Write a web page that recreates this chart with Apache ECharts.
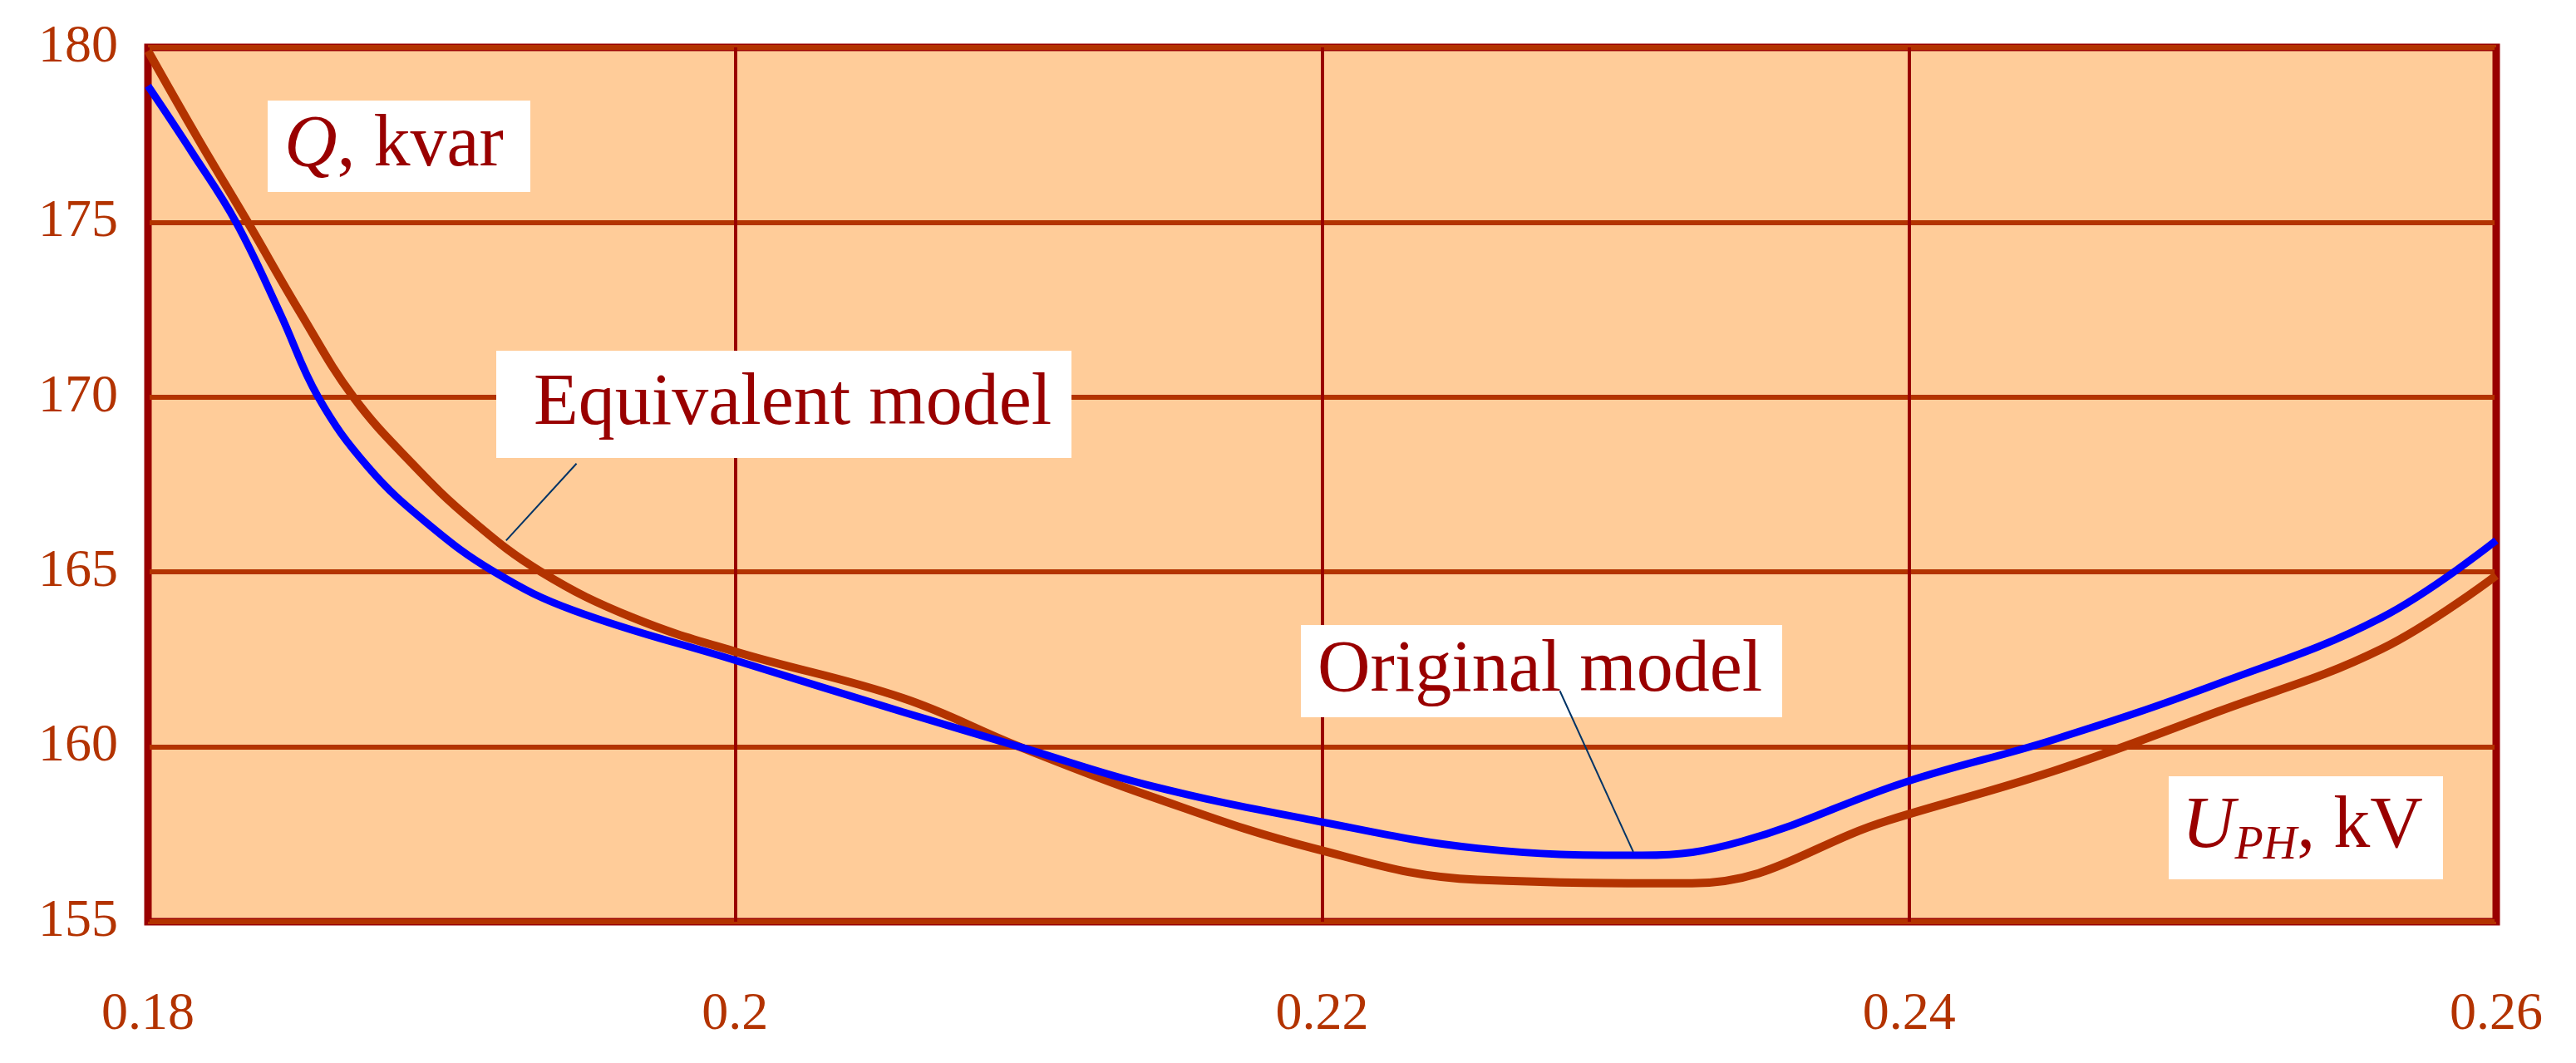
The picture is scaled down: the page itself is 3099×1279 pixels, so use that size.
<!DOCTYPE html>
<html>
<head>
<meta charset="utf-8">
<script src="https://cdn.jsdelivr.net/npm/echarts@6/dist/echarts.min.js"></script>
<style>html,body{margin:0;padding:0;background:#fff}#chart{width:3099px;height:1279px}</style>
</head>
<body>
<div id="chart"></div>
<script>
// curve readings (U_PH in kV, Q in kvar)
var originalX = [0.18, 0.1815, 0.183, 0.1845, 0.1858, 0.1875, 0.1895, 0.1918, 0.1945, 0.2001, 0.2057, 0.2097, 0.2141, 0.2197, 0.2253, 0.2309, 0.2343, 0.2399, 0.2449, 0.2505, 0.2561, 0.26];
var originalQ = [178.9, 177.0, 175.0, 172.4, 170.0, 168.0, 166.4, 165.0, 163.9, 162.45, 161.0, 160.0, 158.9, 157.9, 157.1, 156.9, 157.3, 159.0, 160.2, 161.8, 163.7, 165.9];
var equivX = [0.18, 0.1817, 0.1834, 0.1852, 0.187, 0.189, 0.191, 0.1934, 0.1965, 0.2001, 0.2057, 0.2097, 0.2141, 0.2197, 0.2253, 0.2326, 0.2393, 0.2449, 0.2505, 0.2561, 0.26];
var equivQ = [179.9, 177.4, 175.0, 172.4, 170.0, 168.1, 166.5, 165.0, 163.7, 162.7, 161.4, 160.0, 158.6, 157.1, 156.2, 156.1, 157.9, 159.3, 161.0, 162.8, 164.9];
var xTicks = [0.18, 0.2, 0.22, 0.24, 0.26];
var yTicks = [155, 160, 165, 170, 175, 180];

function pairs(xs, ys) {
    var out = [];
    for (var i = 0; i < xs.length; i++) out.push([xs[i], ys[i]]);
    return out;
}

var chart = echarts.init(document.getElementById('chart'));
var labelFont = '"Liberation Serif", "DejaVu Serif", serif';

var op = {
    animation: false,
    backgroundColor: '#ffffff',
    grid: {
        left: 178, top: 57, right: 96, bottom: 170,
        show: true, backgroundColor: '#FFCC99',
        borderColor: '#990000', borderWidth: 9
    },
    xAxis: {
        type: 'value', min: 0.18, max: 0.26, interval: 0.02,
        axisLine: { show: false }, axisTick: { show: false },
        splitLine: { lineStyle: { color: '#990000', width: 4 } },
        axisLabel: {
            margin: 80, color: '#B33300', fontFamily: labelFont, fontSize: 64,
            formatter: function (v) {
                var s = xTicks.find(function (t) { return Math.abs(t - v) < 1e-9; });
                return s === undefined ? '' : String(+s.toFixed(2));
            }
        }
    },
    yAxis: {
        type: 'value', min: 155, max: 180, interval: 5,
        axisLine: { show: false }, axisTick: { show: false },
        splitLine: { lineStyle: { color: '#B33300', width: 6 } },
        axisLabel: { margin: 36, color: '#B33300', fontFamily: labelFont, fontSize: 64 }
    },
    series: [
        {
            name: 'Equivalent model', type: 'line', smooth: 0.4, showSymbol: false,
            data: pairs(equivX, equivQ),
            lineStyle: { color: '#B33300', width: 10 }, z: 3
        },
        {
            name: 'Original model', type: 'line', smooth: 0.4, showSymbol: false,
            data: pairs(originalX, originalQ),
            lineStyle: { color: '#0000FF', width: 9 }, z: 4
        },
        {   // leader lines
            type: 'line', showSymbol: false, silent: true,
            data: [[0.1946, 168.1], [0.1922, 165.9]],
            lineStyle: { color: '#003366', width: 2 }, z: 5
        },
        {
            type: 'line', showSymbol: false, silent: true,
            data: [[0.2281, 161.6], [0.2306, 157.0]],
            lineStyle: { color: '#003366', width: 2 }, z: 5
        }
    ]
};
chart.setOption(op);

function box(x, y, w, h, children) {
    return {
        type: 'group', x: x, y: y, z: 100,
        children: [{ type: 'rect', shape: { width: w, height: h }, style: { fill: '#ffffff' } }].concat(children)
    };
}
function txt(x, y, rich, text) {
    return { type: 'text', x: x, y: y, style: { text: text, rich: rich, fontFamily: labelFont, fontSize: 88, fill: '#990000', textVerticalAlign: 'middle' } };
}
var rich = {
    i: { fontStyle: 'italic', fontFamily: labelFont, fontSize: 88, color: '#990000' },
    n: { fontFamily: labelFont, fontSize: 88, color: '#990000' },
    s: { fontStyle: 'italic', fontFamily: labelFont, fontSize: 56, color: '#990000', padding: [44, 0, 0, 0] }
};
chart.setOption({
    graphic: [
        box(322, 121, 316, 110, [txt(20, 55, rich, '{i|Q}{n|, kvar}')]),
        box(597, 422, 692, 129, [txt(45, 65, rich, '{n|Equivalent model}')]),
        box(1565, 752, 579, 111, [txt(20, 56, rich, '{n|Original model}')]),
        box(2609, 934, 330, 124, [txt(16, 62, rich, '{i|U}{s|PH}{n|, kV}')])
    ]
});
</script>
</body>
</html>
